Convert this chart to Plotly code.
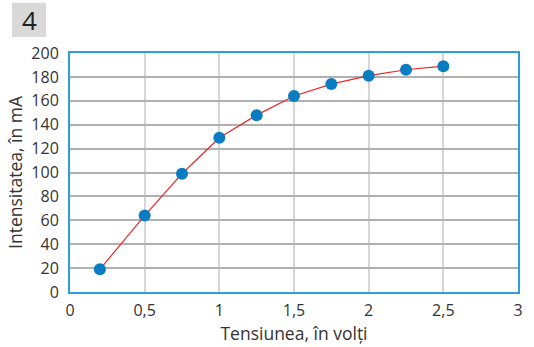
import plotly.graph_objects as go

# Measured current vs. voltage
tensiune = [0.2, 0.5, 0.75, 1.0, 1.25, 1.5, 1.75, 2.0, 2.25, 2.5]
intensitate = [19, 64, 99, 129, 148, 164, 174, 181, 186, 189]

x_ticks = [0, 0.5, 1, 1.5, 2, 2.5, 3]
x_labels = ["0", "0,5", "1", "1,5", "2", "2,5", "3"]
y_ticks = list(range(0, 201, 20))

FONT = "Open Sans"
TEXT = "#333333"

fig = go.Figure()
fig.add_trace(go.Scatter(
    x=tensiune, y=intensitate,
    mode="lines+markers",
    line=dict(color="#e8262a", width=1.2),
    marker=dict(color="#0a7cc2", size=12),
    showlegend=False,
    cliponaxis=False,
))

fig.update_layout(
    width=534, height=347,
    margin=dict(l=70, r=16, t=53, b=55),
    paper_bgcolor="white",
    plot_bgcolor="white",
    font=dict(family=FONT, color=TEXT, size=16),
    xaxis=dict(
        range=[0, 3],
        tickvals=x_ticks, ticktext=x_labels,
        showgrid=True, gridcolor="#d6d6d6", gridwidth=2,
        zeroline=False,
        showline=True, linecolor="#2b9fdc", linewidth=2, mirror=True,
        ticks="", ticklabelstandoff=3,
        tickfont=dict(size=16, color=TEXT),
        automargin=False,
        title=dict(text="Tensiunea, în volți", font=dict(size=17.5, color=TEXT), standoff=8),
    ),
    yaxis=dict(
        range=[0, 200],
        tickvals=y_ticks,
        showgrid=True, gridcolor="#b0b0b0", gridwidth=2,
        zeroline=False,
        showline=True, linecolor="#2b9fdc", linewidth=2, mirror=True,
        ticks="", ticklabelstandoff=6,
        tickfont=dict(size=16, color=TEXT),
        automargin=False,
        title=dict(text="Intensitatea, în mA", font=dict(size=17.5, color=TEXT), standoff=4),
    ),
    shapes=[dict(
        type="rect", xref="paper", yref="paper",
        x0=-58 / 448, x1=-24 / 448,
        y0=1 + 16 / 238, y1=1 + 50 / 238,
        fillcolor="#d9d9d9", line=dict(width=0), layer="below",
    )],
    annotations=[dict(
        text="4", xref="paper", yref="paper",
        x=-41 / 448, y=1 + 33 / 238,
        showarrow=False, xanchor="center", yanchor="middle",
        font=dict(size=26, color="#222222", family=FONT),
    )],
)

fig.write_html("out.html")
